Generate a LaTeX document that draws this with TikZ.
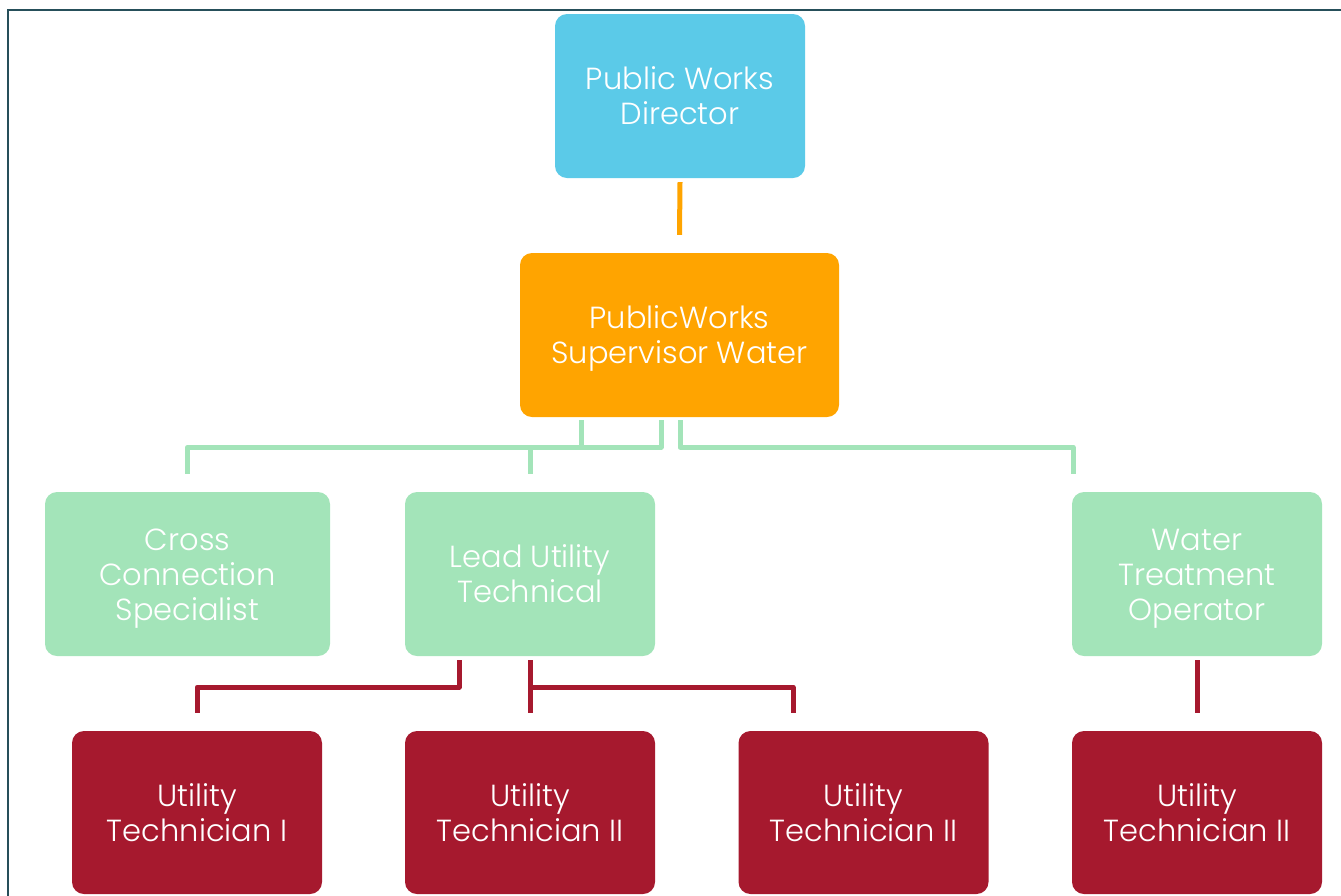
\documentclass[tikz,border=0pt]{standalone}
\usepackage{fontspec}
\setmainfont{Poppins Light}
\usetikzlibrary{positioning}
\definecolor{dircyan}{HTML}{5BCAE8}
\definecolor{suporange}{HTML}{FFA400}
\definecolor{leadgreen}{HTML}{A3E4B9}
\definecolor{techred}{HTML}{A6192E}
\definecolor{framecol}{HTML}{264F5A}
% centred lines of box text on equal struts, set a little below the box centre
\newcommand\boxlines[1]{\raisebox{-4pt}[\height][\depth]{\begin{tabular}{@{}c@{}}#1\end{tabular}}}
\tikzset{
  orgbox/.style={rectangle, rounded corners=12pt, minimum height=164pt,
    text=white, inner sep=0pt,
    font=\fontsize{30.5}{35}\selectfont},
  dirbox/.style={orgbox, fill=dircyan, minimum width=250pt},
  supbox/.style={orgbox, fill=suporange, minimum width=319pt},
  leadbox/.style={orgbox, fill=leadgreen, minimum width=250pt},
  techbox/.style={orgbox, fill=techred, minimum width=250pt, minimum height=163pt},
  link/.style={line width=5pt, line join=round},
  olink/.style={link, draw=suporange},
  glink/.style={link, draw=leadgreen},
  rlink/.style={link, draw=techred},
}
\begin{document}
\begin{tikzpicture}[x=1pt, y=-1pt]
\useasboundingbox (0,0) rectangle (1341,895);
% outer frame
\draw[framecol, line width=2.5pt] (8,900) -- (8,10) -- (1345,10);

% boxes
\node[dirbox]  (dir)   at (680,96)    {\boxlines{Public Works\\Director}};
\node[supbox]  (sup)   at (679.5,335) {\boxlines{PublicWorks\\Supervisor Water}};
\node[leadbox, minimum width=285pt] (cross) at (187.5,574) {\boxlines{Cross\\Connection\\Specialist}};
\node[leadbox] (lead)  at (530,574)   {\boxlines{Lead Utility\\Technical}};
\node[leadbox] (water) at (1197,574)  {\boxlines{Water\\Treatment\\Operator}};
\node[techbox] (t1) at (197,812.5)   {\boxlines{Utility\\Technician I}};
\node[techbox] (t2) at (530,812.5)   {\boxlines{Utility\\Technician II}};
\node[techbox] (t3) at (863.5,812.5) {\boxlines{Utility\\Technician II}};
\node[techbox] (t4) at (1197,812.5)  {\boxlines{Utility\\Technician II}};

% director to supervisor
\draw[olink] ([yshift=-4pt]dir.south) -- ([yshift=18pt]sup.north);

% supervisor to green row
\draw[glink] ([xshift=-98.5pt,yshift=-3pt]sup.south) -- ++(0,27) -| ([yshift=18pt]cross.north);
\draw[glink] ([xshift=-18.5pt,yshift=-3pt]sup.south) -- ++(0,27) -| ([yshift=18pt]lead.north);
\draw[glink] ([xshift=0.5pt,yshift=-3pt]sup.south) -- ++(0,27) -| ([xshift=-124pt,yshift=18pt]water.north);

% green row to red row
\draw[rlink] ([xshift=-71pt,yshift=-4pt]lead.south) -- ++(0,27) -| ([yshift=18pt]t1.north);
\draw[rlink] ([yshift=-4pt]lead.south) -- ([yshift=18pt]t2.north);
\draw[rlink] ([yshift=-31pt]lead.south) -| ([xshift=-70.5pt,yshift=18pt]t3.north);
\draw[rlink] ([yshift=-4pt]water.south) -- ([yshift=18pt]t4.north);
\end{tikzpicture}
\end{document}
